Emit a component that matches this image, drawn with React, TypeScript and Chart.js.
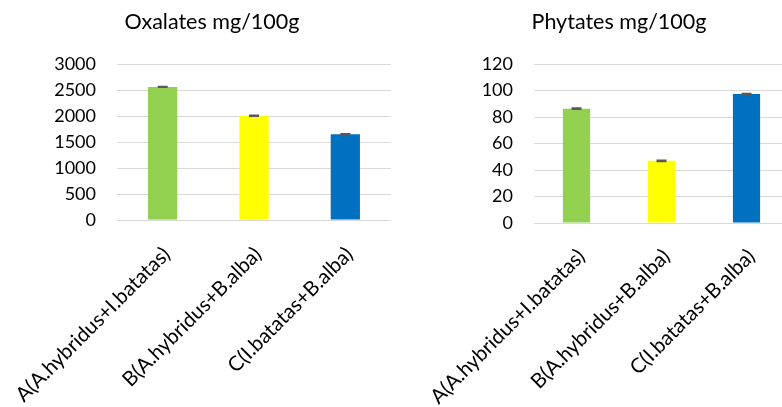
import React, { useEffect, useRef } from "react";
import { Chart, registerables } from "chart.js";

Chart.register(...registerables);

const categories = ["A(A.hybridus+I.batatas)", "B(A.hybridus+B.alba)", "C(I.batatas+B.alba)"];
const barColors = ["#92D050", "#FFFF00", "#0070C0"];
const oxalateValues = [2560, 2005, 1650];
const oxalateErrors = [8, 8, 8];
const phytateValues = [86.3, 46.9, 97.3];
const phytateErrors = [0.4, 0.4, 0.4];
const oxalateTitle = "Oxalates mg/100g";
const phytateTitle = "Phytates mg/100g";

const FONT = "Lato, 'Open Sans', sans-serif";

const titlePlugin = {
  id: "sideTitle",
  afterDraw(chart: any, _args: any, opts: any) {
    if (!opts || !opts.text) return;
    const ctx = chart.ctx;
    ctx.save();
    ctx.font = `${opts.size}px ${FONT}`;
    ctx.fillStyle = "#000";
    ctx.textAlign = "center";
    ctx.textBaseline = "alphabetic";
    ctx.fillText(opts.text, opts.x, opts.y);
    ctx.restore();
  },
};

// draws the category labels of the x scale, rotated 45 degrees
const rotatedLabelsPlugin = {
  id: "rotLabels",
  afterDraw(chart: any, _args: any, opts: any) {
    const xs = chart.scales.x;
    const ctx = chart.ctx;
    ctx.save();
    ctx.font = `${opts.size}px ${FONT}`;
    ctx.fillStyle = "#000";
    ctx.textAlign = "right";
    ctx.textBaseline = "middle";
    (chart.data.labels as string[]).forEach((lab, i) => {
      const x = xs.getPixelForTick(i) + opts.dx;
      const y = xs.top + opts.dy;
      ctx.save();
      ctx.translate(x, y);
      ctx.rotate(-Math.PI / 4);
      ctx.fillText(lab, 0, 0);
      ctx.restore();
    });
    ctx.restore();
  },
};

const errorBarPlugin = {
  id: "errorBars",
  afterDatasetsDraw(chart: any, _args: any, opts: any) {
    if (!opts || !opts.errors) return;
    const ctx = chart.ctx;
    const meta = chart.getDatasetMeta(0);
    const yScale = chart.scales.y;
    const values = chart.data.datasets[0].data;
    ctx.save();
    ctx.strokeStyle = "#595959";
    ctx.lineWidth = 1.5;
    meta.data.forEach((bar: any, i: number) => {
      const v = values[i];
      const e = opts.errors[i];
      const yTop = yScale.getPixelForValue(v + e);
      const yBot = yScale.getPixelForValue(v - e);
      const x = bar.x;
      const half = 5;
      ctx.beginPath();
      ctx.moveTo(x, yTop);
      ctx.lineTo(x, yBot);
      ctx.moveTo(x - half, yTop);
      ctx.lineTo(x + half, yTop);
      ctx.moveTo(x - half, yBot);
      ctx.lineTo(x + half, yBot);
      ctx.stroke();
    });
    ctx.restore();
  },
};

type Props = {
  width: number;
  values: number[];
  errors: number[];
  max: number;
  step: number;
  title: string;
  titleX: number;
  yWidth: number;
  xHeight: number;
  labelDx: number;
  labelDy: number;
};

function BarChart(p: Props) {
  const ref = useRef<HTMLCanvasElement | null>(null);
  useEffect(() => {
    if (!ref.current) return;
    const chart = new Chart(ref.current, {
      type: "bar",
      data: {
        labels: categories,
        datasets: [
          {
            data: p.values,
            backgroundColor: barColors,
            borderWidth: 0,
            barPercentage: 0.32,
            categoryPercentage: 1,
          },
        ],
      },
      options: {
        responsive: false,
        animation: false,
        layout: { padding: { top: 64, left: 0, right: 0, bottom: 0 } },
        plugins: {
          legend: { display: false },
          tooltip: { enabled: false },
          title: { display: false },
          sideTitle: { text: p.title, x: p.titleX, y: 28.5, size: 21.5 },
          rotLabels: { size: 20.5, dx: p.labelDx, dy: p.labelDy },
          errorBars: { errors: p.errors },
        } as any,
        scales: {
          x: {
            grid: { display: false, drawTicks: false },
            border: { display: true, color: "#d9d9d9", width: 1 },
            ticks: { display: false },
            afterFit: (s: any) => {
              s.height = p.xHeight;
            },
          },
          y: {
            min: 0,
            max: p.max,
            ticks: {
              stepSize: p.step,
              padding: 21,
              color: "#000",
              font: { family: FONT, size: 18 },
              callback: (v: any) => String(v),
            },
            grid: { color: "#d9d9d9", lineWidth: 1, drawTicks: false },
            border: { display: false },
            afterFit: (s: any) => {
              s.width = p.yWidth;
            },
          },
        },
      },
      plugins: [titlePlugin, rotatedLabelsPlugin, errorBarPlugin],
    });
    return () => chart.destroy();
  }, []);
  return <canvas ref={ref} width={p.width} height={407} style={{ display: "block" }} />;
}

export default function App() {
  return (
    <div
      style={{
        position: "fixed",
        left: 0,
        top: 0,
        width: 782,
        height: 407,
        overflow: "hidden",
        background: "#fff",
      }}
    >
      <div style={{ position: "absolute", left: 0, top: 0 }}>
        <BarChart
          width={391}
          values={oxalateValues}
          errors={oxalateErrors}
          max={3000}
          step={500}
          title={oxalateTitle}
          titleX={212}
          yWidth={117}
          xHeight={187}
          labelDx={4}
          labelDy={31}
        />
      </div>
      <div style={{ position: "absolute", left: 391, top: 0 }}>
        <BarChart
          width={398}
          values={phytateValues}
          errors={phytateErrors}
          max={120}
          step={20}
          title={phytateTitle}
          titleX={228}
          yWidth={143}
          xHeight={184}
          labelDx={5}
          labelDy={30}
        />
      </div>
    </div>
  );
}
